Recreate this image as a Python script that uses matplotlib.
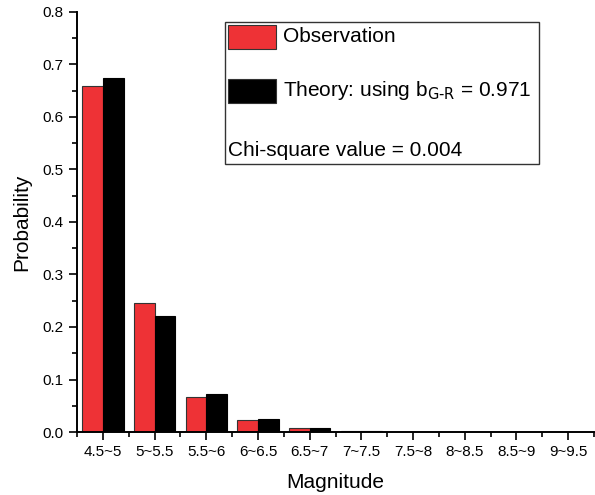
import numpy as np
import matplotlib.pyplot as plt
from matplotlib.patches import Rectangle
from matplotlib.ticker import MultipleLocator

plt.rcParams['font.family'] = ['Liberation Sans', 'DejaVu Sans']

magnitude_bins = ['4.5~5', '5~5.5', '5.5~6', '6~6.5', '6.5~7',
                  '7~7.5', '7.5~8', '8~8.5', '8.5~9', '9~9.5']
observation = [0.659, 0.245, 0.066, 0.023, 0.007, 0.002, 0.0008, 0.0003, 0.0001, 0.0001]
theory = [0.674, 0.221, 0.072, 0.024, 0.008, 0.0025, 0.0008, 0.0003, 0.0001, 0.00003]
b_value = 0.971
chi_square = 0.004

red = '#ee3236'

W, H = 595, 495
fig = plt.figure(figsize=(W / 100, H / 100), dpi=100)
# axes box in pixels: left 77, right 594, top 12, bottom 432
ax = fig.add_axes([77 / W, 1 - 432 / H, (594 - 77) / W, (432 - 12) / H])

x = np.arange(len(magnitude_bins))
w = 0.4
ax.bar(x - w / 2, observation, w, color=red, edgecolor='#333333', linewidth=0.8)
ax.bar(x + w / 2, theory, w, color='black', edgecolor='black', linewidth=0.8)

ax.set_xlim(-0.5, len(magnitude_bins) - 0.5)
ax.set_ylim(0, 0.8)
ax.set_xticks(x)
ax.set_xticklabels(magnitude_bins)
ax.xaxis.set_minor_locator(MultipleLocator(1, offset=0.5))
ax.yaxis.set_major_locator(MultipleLocator(0.1))
ax.yaxis.set_minor_locator(MultipleLocator(0.05))
ax.yaxis.set_major_formatter(plt.FormatStrFormatter('%.1f'))

for s in ['top', 'right']:
    ax.spines[s].set_visible(False)
for s in ['left', 'bottom']:
    ax.spines[s].set_linewidth(1.4)
ax.tick_params(which='both', direction='out', width=1.2, labelsize=11)
ax.tick_params(which='major', length=6)
ax.tick_params(which='minor', length=3.5)

ax.set_xlabel('Magnitude', fontsize=15, labelpad=10)
ax.set_ylabel('Probability', fontsize=15, labelpad=8)

# legend drawn by hand in pixel positions
def px(xp, yp):
    return xp / W, 1 - yp / H

x0, y0 = px(225, 164)
x1, y1 = px(539, 22)
fig.patches.append(Rectangle((x0, y0), x1 - x0, y1 - y0, transform=fig.transFigure,
                             facecolor='white', edgecolor='#333333', linewidth=1.0))
for top, color in [(25, red), (79, 'black')]:
    px0, py0 = px(228, top + 24)
    fig.patches.append(Rectangle((px0, py0), 48 / W, 24 / H, transform=fig.transFigure,
                                 facecolor=color, edgecolor='#333333', linewidth=0.8))
fig.text(*px(283, 37), 'Observation', fontsize=15, va='center')
fig.text(*px(283, 91), 'Theory: using b$_{\\mathrm{G\\text{-}R}}$ = %.3f' % b_value,
         fontsize=15, va='center')
fig.text(*px(228, 150), 'Chi-square value = %.3f' % chi_square, fontsize=15, va='center')

fig.savefig('out.png', dpi=100)
